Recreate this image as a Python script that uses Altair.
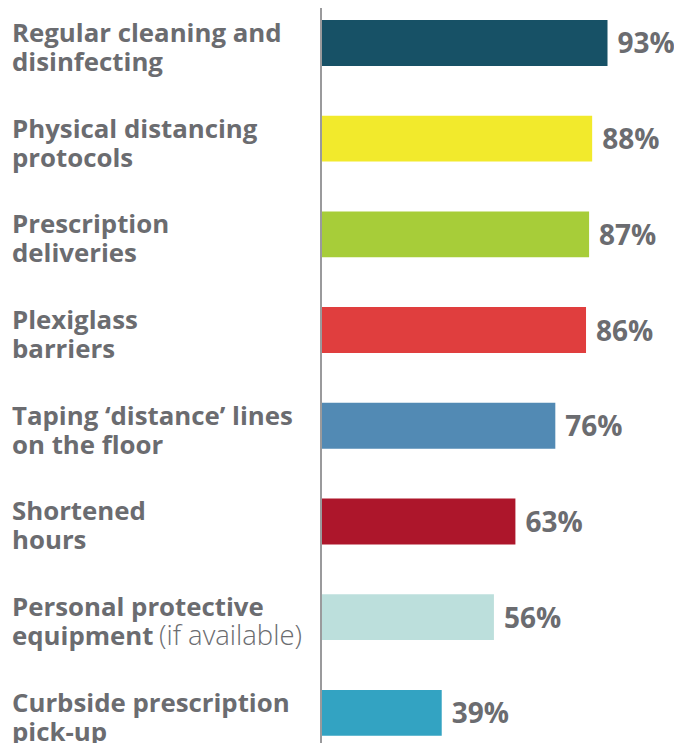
import altair as alt
import pandas as pd

categories = [
    "Regular cleaning and\ndisinfecting",
    "Physical distancing\nprotocols",
    "Prescription\ndeliveries",
    "Plexiglass\nbarriers",
    "Taping \u2018distance\u2019 lines\non the floor",
    "Shortened\nhours",
    "Personal protective\nequipment",
    "Curbside prescription\npick-up",
]
values = [93, 88, 87, 86, 76, 63, 56, 39]
colors = ["#175166", "#f2ea2c", "#a7cd39", "#e03e3e", "#528ab4", "#ad162b", "#bcdfdc", "#33a3c2"]
note_category = "Personal protective\nequipment"
note_text = "(if available)"

df = pd.DataFrame({
    "cat": categories,
    "value": values,
    "pct": [f"{v}%" for v in values],
    "color": colors,
})
note_df = pd.DataFrame({"cat": [note_category], "note": [note_text]})

W, H = 666, 735
TEXT = "#6b6c70"
FONT = "Open Sans"

y_scale = alt.Scale(paddingInner=0.52, paddingOuter=0.12, range=[0.5, 739.3])
y_enc = alt.Y("cat:N", sort=categories, axis=None, scale=y_scale)
x_scale = alt.Scale(domain=[0, 100], range=[314, 314 + 307])

base = alt.Chart(df)

bars = base.mark_bar().encode(
    x=alt.X("value:Q", scale=x_scale, axis=None),
    y=y_enc,
    color=alt.Color("color:N", scale=None, legend=None),
)

pct = base.mark_text(align="left", baseline="alphabetic", dx=10, dy=10.5,
                     font=FONT, fontWeight="bold", fontSize=28, color=TEXT).encode(
    x=alt.X("value:Q", scale=x_scale),
    y=y_enc,
    text="pct:N",
)

labels = base.mark_text(align="left", baseline="alphabetic", dy=-1, lineBreak="\n",
                        lineHeight=29, font=FONT, fontWeight="bold", fontSize=25.8,
                        color=TEXT).encode(
    x=alt.value(4),
    y=y_enc,
    text="cat:N",
)

note = alt.Chart(note_df).mark_text(align="left", baseline="alphabetic", dy=28,
                                    font=FONT, fontWeight=300, fontSize=27.5,
                                    color=TEXT).encode(
    x=alt.value(151),
    y=alt.Y("cat:N", sort=categories, axis=None, scale=y_scale),
    text="note:N",
)

axis_line = alt.Chart(pd.DataFrame({"z": [0]})).mark_rule(
    color="#9a9a9c", strokeWidth=2, xOffset=-1).encode(
    x=alt.X("z:Q", scale=x_scale),
)

chart = alt.layer(bars, axis_line, pct, labels, note).properties(
    width=W, height=H, padding=0,
    autosize=alt.AutoSizeParams(type="none"),
).configure_view(stroke=None)

chart.save("out.html", embed_options={"renderer": "svg", "actions": False})
